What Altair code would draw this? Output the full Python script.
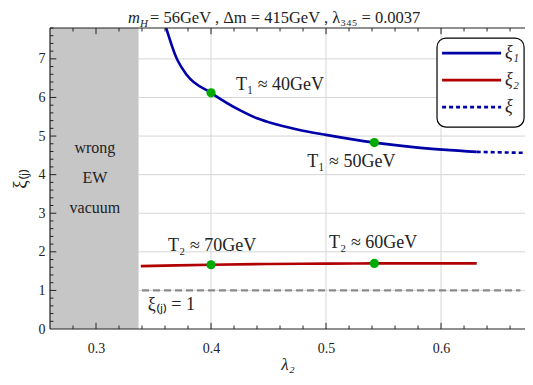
import altair as alt
import pandas as pd

# ---- data ----
xi1_lam = [0.3605, 0.370, 0.379, 0.400, 0.425, 0.440, 0.451, 0.475, 0.500, 0.542, 0.580, 0.631]
xi1_val = [7.85, 7.02, 6.58, 6.12, 5.67, 5.46, 5.35, 5.17, 5.03, 4.83, 4.70, 4.59]
xi_lam = [0.631, 0.680]
xi_val = [4.59, 4.56]
xi2_lam = [0.339, 0.370, 0.400, 0.450, 0.500, 0.542, 0.600, 0.631]
xi2_val = [1.63, 1.65, 1.665, 1.685, 1.695, 1.70, 1.70, 1.70]
pts_lam = [0.400, 0.542, 0.400, 0.542]
pts_val = [6.12, 4.83, 1.665, 1.70]
ann_text = ["T₁ ≈ 40GeV", "T₁ ≈ 50GeV", "T₂ ≈ 70GeV", "T₂ ≈ 60GeV"]
ann_lam = [0.460, 0.522, 0.401, 0.541]
ann_val = [6.32, 4.33, 2.15, 2.23]
wrong_text = ["wrong", "EW", "vacuum"]
wrong_val = [4.69, 3.91, 3.13]
x_major = [0.3, 0.4, 0.5, 0.6]
y_major = [1, 2, 3, 4, 5, 6, 7]
XMIN, XMAX, YMIN, YMAX = 0.26, 0.673, 0.0, 7.8
WRONG_EDGE = 0.337

FONT = "Liberation Serif"
BLUE = "#0000a8"
RED = "#b00000"
GREEN = "#00aa00"
INK = "#222222"

xs = alt.Scale(domain=[XMIN, XMAX], nice=False, zero=False)
ys = alt.Scale(domain=[YMIN, YMAX], nice=False, zero=False)

def X(f="x"):
    return alt.X(f"{f}:Q", scale=xs)

def Y(f="y"):
    return alt.Y(f"{f}:Q", scale=ys)

base = alt.Chart(pd.DataFrame({"x": [0]}))

# grid lines
gx = alt.Chart(pd.DataFrame({"x": x_major, "y": [YMIN] * 4, "y2": [YMAX] * 4})).mark_rule(
    color="#d6d6d6", strokeWidth=1).encode(
    x=alt.X("x:Q", scale=xs,
            axis=alt.Axis(values=x_major, format=".1f", ticks=False, grid=False, domain=False,
                          labelFont=FONT, labelFontSize=14, labelColor=INK, labelPadding=12,
                          title="λ₂", titleFont=FONT, titleFontSize=17, titleFontWeight="normal",
                          titleFontStyle="italic", titlePadding=1, titleColor=INK)),
    y=alt.Y("y:Q", scale=ys,
            axis=alt.Axis(values=list(range(0, 8)), ticks=False, grid=False, domain=False,
                          labelFont=FONT, labelFontSize=14, labelColor=INK, labelPadding=5,
                          title="ξ₍ⱼ₎", titleFont=FONT, titleFontSize=19, titleFontWeight="normal",
                          titlePadding=9, titleColor=INK)),
    y2="y2:Q")
gy = alt.Chart(pd.DataFrame({"y": y_major, "x": [WRONG_EDGE] * 7, "x2": [XMAX] * 7})).mark_rule(
    color="#d6d6d6", strokeWidth=1).encode(y=Y(), x=X(), x2="x2:Q")

# gray "wrong EW vacuum" region
gray = alt.Chart(pd.DataFrame({"x": [XMIN], "x2": [WRONG_EDGE], "y": [YMIN], "y2": [YMAX]})).mark_rect(
    color="#c6c6c6").encode(x=X(), x2="x2:Q", y=Y(), y2="y2:Q")

one = alt.Chart(pd.DataFrame({"x": [0.340], "x2": [0.669], "y": [1.0]})).mark_rule(
    color="#8a8a8a", strokeWidth=2.2, strokeDash=[7, 4]).encode(x=X(), x2="x2:Q", y=Y())

l1 = alt.Chart(pd.DataFrame({"x": xi1_lam, "y": xi1_val})).mark_line(
    color=BLUE, strokeWidth=2.6, clip=True, interpolate="monotone").encode(x=X(), y=Y())
l0 = alt.Chart(pd.DataFrame({"x": xi_lam, "y": xi_val})).mark_line(
    color=BLUE, strokeWidth=2.6, strokeDash=[4, 3], clip=True).encode(x=X(), y=Y())
l2 = alt.Chart(pd.DataFrame({"x": xi2_lam, "y": xi2_val})).mark_line(
    color=RED, strokeWidth=2.6, interpolate="monotone").encode(x=X(), y=Y())
pts = alt.Chart(pd.DataFrame({"x": pts_lam, "y": pts_val})).mark_circle(
    color=GREEN, opacity=1, size=85).encode(x=X(), y=Y())

ann = alt.Chart(pd.DataFrame({"x": ann_lam, "y": ann_val, "t": ann_text})).mark_text(
    font=FONT, fontSize=18, color=INK).encode(x=X(), y=Y(), text="t:N")
one_txt = alt.Chart(pd.DataFrame({"x": [0.345], "y": [0.62], "t": ["ξ₍ⱼ₎ = 1"]})).mark_text(
    font=FONT, fontSize=18, color=INK, align="left").encode(x=X(), y=Y(), text="t:N")
wrong = alt.Chart(pd.DataFrame({"x": [0.299] * 3, "y": wrong_val, "t": wrong_text})).mark_text(
    font=FONT, fontSize=16, color=INK).encode(x=X(), y=Y(), text="t:N")

# legend
leg_box = alt.Chart(pd.DataFrame({"x": [0.5965], "x2": [0.6722], "y": [5.23], "y2": [7.54]})).mark_rect(
    fill="white", stroke="black", strokeWidth=1.2, cornerRadius=9).encode(x=X(), x2="x2:Q", y=Y(), y2="y2:Q")
leg_names = ["ξ₁", "ξ₂", "ξ"]
leg_y = [7.15, 6.45, 5.75]
leg_l1 = alt.Chart(pd.DataFrame({"x": [0.6009], "x2": [0.6522], "y": [leg_y[0]]})).mark_rule(
    color=BLUE, strokeWidth=2.6).encode(x=X(), x2="x2:Q", y=Y())
leg_l2 = alt.Chart(pd.DataFrame({"x": [0.6009], "x2": [0.6522], "y": [leg_y[1]]})).mark_rule(
    color=RED, strokeWidth=2.6).encode(x=X(), x2="x2:Q", y=Y())
leg_l3 = alt.Chart(pd.DataFrame({"x": [0.6009], "x2": [0.6522], "y": [leg_y[2]]})).mark_rule(
    color=BLUE, strokeWidth=2.6, strokeDash=[4, 3]).encode(x=X(), x2="x2:Q", y=Y())
leg_txt = alt.Chart(pd.DataFrame({"x": [0.6557] * 3, "y": leg_y, "t": leg_names})).mark_text(
    font=FONT, fontSize=18, fontStyle="italic", color=INK, align="left").encode(x=X(), y=Y(), text="t:N")

# frame: left, top, bottom (right edge is cut off by the window in the original)
frame = alt.Chart(pd.DataFrame({
    "x": [XMIN, XMIN, XMIN], "x2": [XMIN, XMAX, XMAX],
    "y": [YMIN, YMAX, YMIN], "y2": [YMAX, YMAX, YMIN]})).mark_rule(
    color=INK, strokeWidth=1.2).encode(x=X(), x2="x2:Q", y=Y(), y2="y2:Q")

# inward frame ticks
x_minor = [round(XMIN + 0.02 * i, 3) for i in range(21)]
x_minor = [v for v in x_minor if all(abs(v - m) > 1e-6 for m in x_major) and v > XMIN]
y_minor = [round(0.2 * i, 2) for i in range(40)]
y_minor = [v for v in y_minor if all(abs(v - m) > 1e-6 for m in y_major + [0])]

def xticks(vals, length):
    rows = []
    for v in vals:
        rows.append({"x": v, "y": YMIN, "y2": YMIN + length})
        rows.append({"x": v, "y": YMAX, "y2": YMAX - length})
    return alt.Chart(pd.DataFrame(rows)).mark_rule(color=INK, strokeWidth=1).encode(x=X(), y=Y(), y2="y2:Q")

def yticks(vals, length):
    rows = [{"y": v, "x": XMIN, "x2": XMIN + length} for v in vals]
    return alt.Chart(pd.DataFrame(rows)).mark_rule(color=INK, strokeWidth=1).encode(y=Y(), x=X(), x2="x2:Q")

tk = [xticks(x_major, 0.16), xticks(x_minor, 0.09), yticks(y_major, 0.0055), yticks(y_minor, 0.003)]

# title pieces (alphabetic baseline so the glyphs stay inside the page)
t_m = base.mark_text(font=FONT, fontSize=16.5, fontStyle="italic", color=INK, align="right",
                     baseline="alphabetic").encode(
    x=alt.value(90), y=alt.value(-5), text=alt.value("m"))
t_h = base.mark_text(font=FONT, fontSize=11, fontStyle="italic", color=INK, align="left",
                     baseline="alphabetic").encode(
    x=alt.value(90), y=alt.value(-1.5), text=alt.value("H"))
t_rest = base.mark_text(font=FONT, fontSize=16.5, color=INK, align="left", baseline="alphabetic").encode(
    x=alt.value(100), y=alt.value(-5), text=alt.value("= 56GeV ,  Δm = 415GeV ,  λ₃₄₅ = 0.0037"))

chart = alt.layer(
    gx, gy, gray, one, l1, l0, l2, pts, ann, one_txt, wrong,
    leg_box, leg_l1, leg_l2, leg_l3, leg_txt, frame, *tk, t_m, t_h, t_rest
).properties(
    width=475, height=301,
    autosize=alt.AutoSizeParams(type="none"),
    padding={"left": 42, "top": 20, "right": 0, "bottom": 48},
).configure_view(stroke=None)

chart.save("out.html", embed_options={"renderer": "svg", "actions": False})
